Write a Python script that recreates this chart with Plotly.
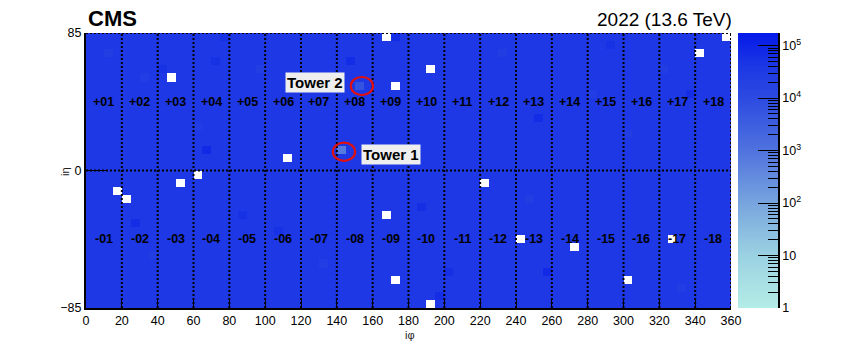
import numpy as np
import plotly.graph_objects as go

# ---------------- data ----------------
iphi_edges = list(range(0, 365, 5))          # tower edges in i-phi
ieta_edges = list(range(-85, 90, 5))         # tower edges in i-eta
typical_count = 38000                        # typical tower occupancy
# dead towers (low edge iphi, low edge ieta) -> no entries
dead_towers = [(165, 80), (355, 80), (340, 70), (45, 55), (190, 60), (170, 50),
               (110, 5), (60, -5), (15, -15), (20, -20), (50, -10), (220, -10),
               (165, -30), (240, -45), (270, -50), (325, -45), (170, -70),
               (300, -70), (190, -85)]
# towers with visibly different occupancy (low edge iphi, low edge ieta, counts)
special_towers = [(140, 10, 700), (150, 50, 6000),
                  (65, 10, 75000), (70, 65, 55000), (145, 65, 70000), (170, 80, 70000),
                  (250, 30, 70000), (335, 45, 65000), (25, -35, 65000), (85, -30, 55000),
                  (185, -25, 60000), (200, -65, 60000), (195, -80, 65000), (255, -65, 75000),
                  (10, 70, 24000), (30, 55, 26000), (60, 25, 26000), (95, 60, 25000),
                  (230, 70, 25000), (280, 45, 26000), (300, 20, 25000), (320, 60, 24000),
                  (35, -55, 25000), (130, -60, 26000), (245, -20, 25000), (330, -75, 26000),
                  (105, -40, 55000), (40, 60, 55000), (75, 80, 55000), (290, 75, 55000)]
sector_numbers = list(range(1, 19))
cbar_major = [0, 1, 2, 3, 4, 5]
cbar_major_text = ["1", "10", "10<sup>2</sup>", "10<sup>3</sup>", "10<sup>4</sup>", "10<sup>5</sup>"]
x_ticks = list(range(0, 380, 20))
zmax_log = 5.24

# ---------------- build matrix ----------------
phi_c = [e + 2.5 for e in iphi_edges[:-1]]
eta_c = [e + 2.5 for e in ieta_edges[:-1]]
counts = np.full((len(eta_c), len(phi_c)), float(typical_count))
for (p, e, c) in special_towers:
    counts[ieta_edges.index(e), iphi_edges.index(p)] = c
for (p, e) in dead_towers:
    counts[ieta_edges.index(e), iphi_edges.index(p)] = np.nan
z = np.log10(counts)

colorscale = [
    [0.00, "rgb(180,236,230)"],
    [0.19, "rgb(155,210,226)"],
    [0.38, "rgb(120,165,222)"],
    [0.57, "rgb(80,115,222)"],
    [0.76, "rgb(45,75,225)"],
    [0.88, "rgb(28,55,228)"],
    [1.00, "rgb(5,25,232)"],
]

FONT = "Liberation Sans, Arial, sans-serif"
fig = go.Figure()
fig.add_trace(go.Heatmap(x=phi_c, y=eta_c, z=z, colorscale=colorscale,
                         zmin=0, zmax=zmax_log, showscale=False, hoverongaps=False,
                         xaxis="x", yaxis="y"))

# manual colour bar
cb_levels = np.linspace(0, zmax_log, 300)
fig.add_trace(go.Heatmap(x=[0, 1], y=cb_levels, z=[[v, v] for v in cb_levels],
                         colorscale=colorscale, zmin=0, zmax=zmax_log,
                         showscale=False, xaxis="x2", yaxis="y2", hoverinfo="skip"))

minor_vals = [d + np.log10(k) for d in range(0, 6) for k in range(2, 10) if d + np.log10(k) < zmax_log]

W, H = 864, 343
px = lambda v: v / W
py = lambda v: (H - v) / H
ydom = [py(308), py(33)]

fig.update_layout(
    width=W, height=H, margin=dict(l=0, r=0, t=0, b=0, pad=0, autoexpand=False),
    paper_bgcolor="white", plot_bgcolor="white", showlegend=False,
    font=dict(family=FONT, size=12, color="black"),
    xaxis=dict(domain=[px(86), px(731)], range=[0, 360], tickvals=x_ticks,
               ticks="inside", ticklen=8, tickwidth=1.2, tickcolor="black",
               showline=True, linecolor="black", linewidth=2, showgrid=False,
               zeroline=False, layer="above traces", tickfont=dict(size=12.5),
               automargin=False),
    yaxis=dict(domain=ydom, range=[-85, 85], tickvals=[-85, 0, 85],
               ticktext=["\u221285", "0", "85"], ticks="inside", ticklen=21,
               tickwidth=1.2, tickcolor="black", showline=True, linecolor="black",
               linewidth=2, showgrid=False, zeroline=False, layer="above traces",
               tickfont=dict(size=12.5), automargin=False),
    xaxis2=dict(domain=[px(738), px(778)], range=[0, 1], visible=False, automargin=False),
    yaxis2=dict(domain=ydom, range=[0, zmax_log], anchor="x2", side="right",
                tickvals=cbar_major, ticktext=cbar_major_text, ticks="inside",
                ticklen=20, tickwidth=1.2, tickcolor="black",
                minor=dict(tickmode="array", tickvals=minor_vals, ticks="inside",
                           ticklen=10, tickwidth=1.2, tickcolor="black"),
                showline=True, linecolor="black", linewidth=1.5, showgrid=False,
                zeroline=False, layer="above traces", tickfont=dict(size=12.5),
                automargin=False),
)

shapes = []
for xv in range(20, 380, 20):
    shapes.append(dict(type="line", xref="x", yref="y", x0=xv, x1=xv, y0=-85, y1=85,
                       line=dict(color="black", width=2, dash="2px,2px")))
for yv in [0, 85]:
    shapes.append(dict(type="line", xref="x", yref="y", x0=0, x1=360, y0=yv, y1=yv,
                       line=dict(color="black", width=2, dash="2px,2px")))
for (cx, cy) in [(144, 11.6), (154, 52.2)]:
    shapes.append(dict(type="circle", xref="x", yref="y", x0=cx - 6.2, x1=cx + 6.2,
                       y0=cy - 5.6, y1=cy + 5.6, line=dict(color="#e01010", width=2.2)))
fig.update_layout(shapes=shapes)

ann = []
for n in sector_numbers:
    xc = 20 * n - 10
    ann.append(dict(x=xc, y=42.5, xref="x", yref="y", text="<b>+%02d</b>" % n,
                    showarrow=False, font=dict(size=12.5, color="black")))
    ann.append(dict(x=xc, y=-42.5, xref="x", yref="y", text="<b>-%02d</b>" % n,
                    showarrow=False, font=dict(size=12.5, color="black")))
ann.append(dict(x=127.8, y=54.5, xref="x", yref="y", text="<b>Tower 2</b>", showarrow=False,
                font=dict(size=15, color="black"), bgcolor="#eeeeee", borderpad=1))
ann.append(dict(x=170.2, y=10.2, xref="x", yref="y", text="<b>Tower 1</b>", showarrow=False,
                font=dict(size=15, color="black"), bgcolor="#eeeeee", borderpad=1))
ann.append(dict(x=px(86), y=py(19), xref="paper", yref="paper", xanchor="left",
                yanchor="middle", text="<b>CMS</b>", showarrow=False,
                font=dict(size=22, color="black")))
ann.append(dict(x=px(734), y=py(20), xref="paper", yref="paper", xanchor="right",
                yanchor="middle", text="2022 (13.6 TeV)", showarrow=False,
                font=dict(size=19, color="black")))
ann.append(dict(x=px(57), y=py(172), xref="paper", yref="paper", text="i\u03b7",
                textangle=-90, showarrow=False, font=dict(size=11, color="#222")))
ann.append(dict(x=px(410), y=py(327), xref="paper", yref="paper", yanchor="top",
                text="i\u03c6", showarrow=False, font=dict(size=11, color="#222")))
fig.update_layout(annotations=ann)

fig.write_html("out.html", config={"displayModeBar": False},
               post_script="document.body.style.margin='0px';")
